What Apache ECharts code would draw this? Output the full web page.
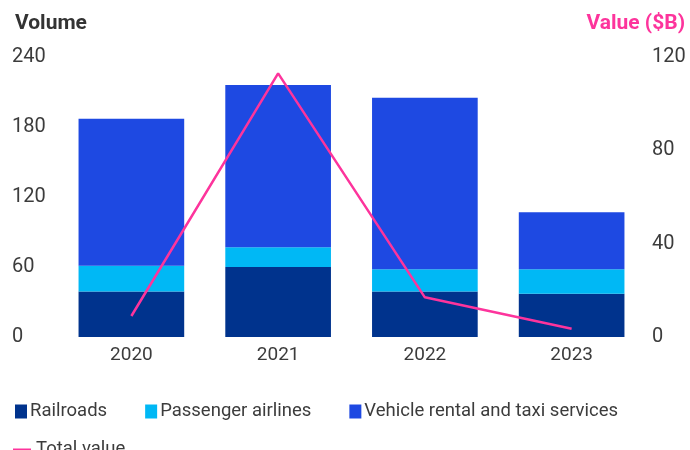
<!DOCTYPE html>
<html>
<head>
<meta charset="utf-8">
<script src="https://cdn.jsdelivr.net/npm/echarts@6/dist/echarts.min.js"></script>
<style>
  html, body { margin: 0; padding: 0; background: #fff; }
  #chart { width: 690px; height: 450px; }
</style>
</head>
<body>
<div id="chart"></div>
<script>
var years = ['2020', '2021', '2022', '2023'];
var railroads = [39, 60, 39, 37];
var airlines = [22, 17, 19, 21];
var vehicleRental = [126, 139, 147, 49];
var totalValue = [9, 113, 17, 3.5];
var volumeTicks = [0, 60, 120, 180, 240];
var valueTicks = [0, 40, 80, 120];

var textColor = '#3c3c3c';
var pink = '#FD349C';
var font = 'Roboto';

var myChart = echarts.init(document.getElementById('chart'));
var option = {
  animation: false,
  title: [
    { text: 'Volume', left: 10, top: 8,
      textStyle: { fontFamily: font, fontSize: 21, fontWeight: 'bold', color: '#333' } },
    { text: 'Value ($B)', right: 0, top: 8,
      textStyle: { fontFamily: font, fontSize: 21, fontWeight: 'bold', color: pink } }
  ],
  grid: { left: 58, right: 45, top: 57, bottom: 113 },
  legend: [
    {
      left: 10, top: 397,
      itemWidth: 12, itemHeight: 14, itemGap: 38,
      icon: 'rect',
      textStyle: { fontFamily: font, fontSize: 18.5, color: textColor, padding: [0, 0, 0, -2] },
      data: ['Railroads', 'Passenger airlines', 'Vehicle rental and taxi services']
    },
    {
      left: 8, top: 435,
      itemWidth: 18, itemHeight: 2,
      icon: 'rect',
      textStyle: { fontFamily: font, fontSize: 18.5, color: textColor },
      data: ['Total value']
    }
  ],
  xAxis: {
    type: 'category',
    data: years,
    axisLine: { show: false },
    axisTick: { show: false },
    axisLabel: { fontFamily: font, fontSize: 19, color: textColor, margin: 9 }
  },
  yAxis: [
    {
      type: 'value', min: 0, max: 240, interval: 60,
      splitLine: { show: false },
      axisLabel: {
        fontFamily: font, fontSize: 20, color: textColor, align: 'left', margin: 46,
        formatter: function (v) { return volumeTicks.indexOf(v) >= 0 ? String(v) : ''; }
      }
    },
    {
      type: 'value', min: 0, max: 120, interval: 40,
      splitLine: { show: false },
      axisLabel: {
        fontFamily: font, fontSize: 20, color: textColor, align: 'left', margin: 7,
        formatter: function (v) { return valueTicks.indexOf(v) >= 0 ? String(v) : ''; }
      }
    }
  ],
  series: [
    { name: 'Railroads', type: 'bar', stack: 'vol', data: railroads,
      barWidth: '72%', itemStyle: { color: '#00338D' } },
    { name: 'Passenger airlines', type: 'bar', stack: 'vol', data: airlines,
      itemStyle: { color: '#00B8F5' } },
    { name: 'Vehicle rental and taxi services', type: 'bar', stack: 'vol', data: vehicleRental,
      itemStyle: { color: '#1E49E2' } },
    { name: 'Total value', type: 'line', yAxisIndex: 1, data: totalValue, color: pink,
      symbol: 'none', lineStyle: { color: pink, width: 2.5 }, itemStyle: { color: pink } }
  ]
};
myChart.setOption(option);
window.addEventListener('resize', function () { myChart.resize(); });
</script>
</body>
</html>
